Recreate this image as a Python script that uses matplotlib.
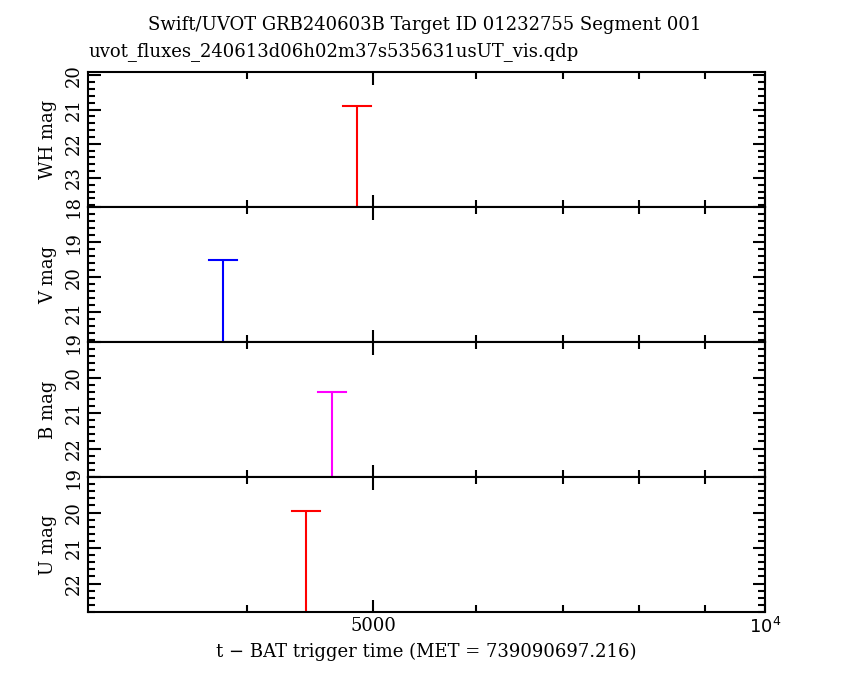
import matplotlib
matplotlib.use('Agg')
from matplotlib import pyplot as plt
from matplotlib.ticker import FixedLocator, MultipleLocator, NullFormatter

plt.rcParams['font.family'] = 'DejaVu Serif'

FILTERS = ['WH', 'V', 'B', 'U']
COLORS = ['#ff0000', '#0000ff', '#ff00ff', '#ff0000']
TIMES = [4860, 3835, 4650, 4440]  # s since trigger
UPPER_LIMITS = [20.9, 19.5, 20.4, 19.95]  # mag
YLIMS = [(23.85, 19.9), (21.85, 18.0), (22.8, 19.0), (22.8, 19.0)]
YTICKS = [[20, 21, 22, 23], [19, 20, 21], [20, 21, 22], [20, 21, 22]]
EDGE_LABELS = [None, '18', '19', '19']  # labels sitting on the panel top edge
XLIM = (3020, 10000)

fig = plt.figure(figsize=(8.5, 6.8), dpi=100)
left, right, top, bottom = 88 / 850, 765 / 850, 1 - 72 / 680, 1 - 612 / 680
h = (top - bottom) / 4

for i, name in enumerate(FILTERS):
    ax = fig.add_axes([left, top - (i + 1) * h, right - left, h])
    ax.set_xscale('log')
    ax.set_xlim(*XLIM)
    ax.set_ylim(*YLIMS[i])
    lo = YLIMS[i][0]
    # upper limit: bar from limit to panel bottom with cap
    ax.vlines(TIMES[i], UPPER_LIMITS[i], lo, color=COLORS[i], lw=1.5)
    ax.plot([TIMES[i] * 0.975, TIMES[i] * 1.025], [UPPER_LIMITS[i]] * 2, color=COLORS[i], lw=1.5)
    ticks = list(YTICKS[i])
    if EDGE_LABELS[i]:
        ticks = [int(EDGE_LABELS[i])] + ticks
    ax.yaxis.set_major_locator(FixedLocator(ticks))
    ax.yaxis.set_minor_locator(MultipleLocator(0.2))
    ax.set_yticklabels([str(t) for t in ticks], rotation=90, va='center', fontsize=13)
    ax.set_ylabel(name + ' mag', fontsize=13, labelpad=6)
    ax.xaxis.set_major_locator(FixedLocator([5000, 10000]))
    ax.xaxis.set_minor_locator(FixedLocator([4000, 6000, 7000, 8000, 9000]))
    ax.xaxis.set_minor_formatter(NullFormatter())
    ax.tick_params(which='both', direction='in', top=True, right=True, width=1.5)
    ax.tick_params(which='major', length=9)
    ax.tick_params(which='minor', length=5)
    for s in ax.spines.values():
        s.set_linewidth(1.5)
    if i < 3:
        ax.set_xticklabels([])
    else:
        ax.set_xticklabels(['5000', r'$10^4$'], fontsize=13)
        ax.set_xlabel('t \u2212 BAT trigger time (MET = 739090697.216)', fontsize=13)

fig.text(425 / 850, 1 - 25 / 680, 'Swift/UVOT GRB240603B Target ID 01232755 Segment 001',
         ha='center', va='center', fontsize=13)
fig.text(left, 1 - 52 / 680, 'uvot_fluxes_240613d06h02m37s535631usUT_vis.qdp',
         ha='left', va='center', fontsize=13)

fig.savefig('out.png', dpi=100)
